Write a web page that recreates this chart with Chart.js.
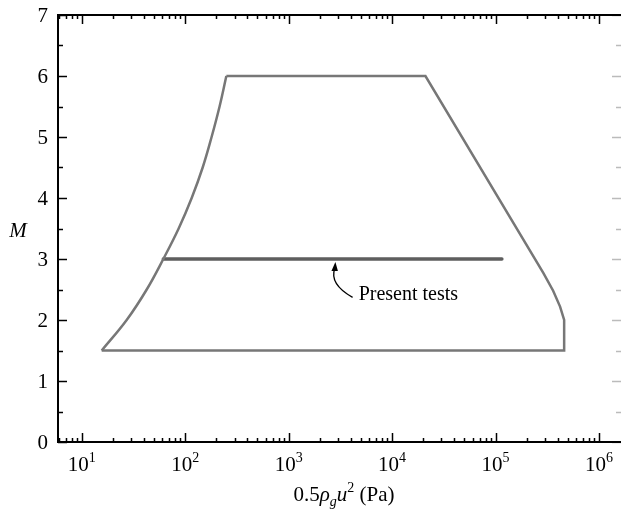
<!DOCTYPE html>
<html>
<head>
<meta charset="utf-8">
<script src="https://cdn.jsdelivr.net/npm/chart.js@4.4.1/dist/chart.umd.min.js"></script>
<style>
    html, body { margin: 0; padding: 0; background: #fff; }
    #wrap { width: 621px; height: 509px; position: relative; }
</style>
</head>
<body>
<div id="wrap"><canvas id="chart"></canvas></div>
<script>
// Enveloppe des conditions : bord gauche (courbe) puis le reste (segments)
const leftP = [15.6, 27.2, 42.5, 61.5, 86.5, 115.6, 147.6, 180, 215, 250];
const leftM = [1.5, 2.0, 2.5, 3.0, 3.5, 4.0, 4.5, 5.0, 5.5, 6.0];
const outerP = [250, 21000, 290000, 360000, 420000, 460000, 460000, 15.6];
const outerM = [6.0, 6.0, 2.77, 2.48, 2.22, 2.0, 1.5, 1.5];

// Essais présents
const testsP = [61.5, 115000];
const testsM = [3, 3];

// Axes
const xMin = 5.9;
const xMax = 1.63e6;
const xDecades = [1, 2, 3, 4, 5, 6];
const yTicks = [0, 1, 2, 3, 4, 5, 6, 7];

// Annotation : [pointe, départ, texte]
const noteP = [2800, 4150, 4750];
const noteM = [2.95, 2.37, 2.41];
const noteText = 'Present tests';

const SERIF = '"Liberation Serif", "Times New Roman", serif';

function toPoints(xs, ys) {
    return xs.map((x, i) => ({ x: x, y: ys[i] }));
}

const framePlugin = {
    id: 'frame',
    afterDraw(chart) {
        const ctx = chart.ctx;
        const area = chart.chartArea;
        const xs = chart.scales.x;
        const ys = chart.scales.y;
        ctx.save();

        // ticks en X (bas et haut)
        const xTick = (v, len) => {
            const px = Math.round(xs.getPixelForValue(v)) + 0.5;
            if (px < area.left + 1 || px > area.right) return;
            ctx.beginPath();
            ctx.moveTo(px, area.bottom); ctx.lineTo(px, area.bottom - len);
            ctx.moveTo(px, area.top); ctx.lineTo(px, area.top + len);
            ctx.stroke();
        };
        ctx.strokeStyle = '#000';
        ctx.lineWidth = 1.5;
        for (let d = 0; d <= 6; d++) {
            for (let m = 1; m <= 9; m++) {
                const v = m * Math.pow(10, d);
                if (v < xMin || v > xMax) continue;
                xTick(v, m === 1 ? 9 : 4);
            }
        }

        // ticks en Y (gauche et droite)
        for (let v = 0; v <= 7; v += 0.5) {
            const py = Math.round(ys.getPixelForValue(v)) + 0.5;
            const len = Number.isInteger(v) ? 9 : 5;
            ctx.strokeStyle = '#000';
            ctx.beginPath();
            ctx.moveTo(area.left, py); ctx.lineTo(area.left + len, py);
            ctx.stroke();
            ctx.strokeStyle = '#bbb';
            ctx.beginPath();
            ctx.moveTo(area.right, py); ctx.lineTo(area.right - len, py);
            ctx.stroke();
        }

        // cadre
        ctx.strokeStyle = '#000';
        ctx.lineWidth = 2;
        ctx.beginPath();
        ctx.moveTo(area.left, area.top); ctx.lineTo(area.right + 2, area.top);
        ctx.moveTo(area.left, area.bottom); ctx.lineTo(area.right + 2, area.bottom);
        ctx.moveTo(area.left, area.top - 1); ctx.lineTo(area.left, area.bottom + 1);
        ctx.stroke();

        // étiquettes Y
        ctx.fillStyle = '#000';
        ctx.font = '21px ' + SERIF;
        ctx.textAlign = 'right';
        ctx.textBaseline = 'middle';
        yTicks.forEach(v => {
            ctx.fillText(String(v), 48, ys.getPixelForValue(v) + 1);
        });

        // étiquettes X : 10^n
        ctx.textBaseline = 'alphabetic';
        xDecades.forEach(n => {
            const px = xs.getPixelForValue(Math.pow(10, n));
            ctx.font = '21px ' + SERIF;
            const wBase = ctx.measureText('10').width;
            ctx.font = '14px ' + SERIF;
            const wExp = ctx.measureText(String(n)).width;
            const x0 = px - (wBase + wExp) / 2;
            ctx.textAlign = 'left';
            ctx.font = '21px ' + SERIF;
            ctx.fillText('10', x0, 471);
            ctx.font = '14px ' + SERIF;
            ctx.fillText(String(n), x0 + wBase, 462);
        });

        // titre X : 0.5 ρg u² (Pa)
        const parts = [
            { t: '0.5', f: '21px ' + SERIF, dy: 0 },
            { t: 'ρ', f: 'italic 21px ' + SERIF, dy: 0 },
            { t: 'g', f: 'italic 14px ' + SERIF, dy: 5 },
            { t: 'u', f: 'italic 21px ' + SERIF, dy: 0 },
            { t: '2', f: '14px ' + SERIF, dy: -9 },
            { t: ' (Pa)', f: '21px ' + SERIF, dy: 0 }
        ];
        let total = 0;
        parts.forEach(p => { ctx.font = p.f; p.w = ctx.measureText(p.t).width; total += p.w; });
        let cx = 344 - total / 2;
        parts.forEach(p => {
            ctx.font = p.f;
            ctx.fillText(p.t, cx, 501 + p.dy);
            cx += p.w;
        });

        // titre Y : M
        ctx.font = 'italic 21px ' + SERIF;
        ctx.textAlign = 'center';
        ctx.textBaseline = 'middle';
        ctx.fillText('M', 18, 231);

        // annotation
        const tipX = xs.getPixelForValue(noteP[0]);
        const tipY = ys.getPixelForValue(noteM[0]);
        const stX = xs.getPixelForValue(noteP[1]);
        const stY = ys.getPixelForValue(noteM[1]);
        ctx.strokeStyle = '#000';
        ctx.lineWidth = 1.3;
        ctx.beginPath();
        ctx.moveTo(stX, stY);
        ctx.quadraticCurveTo(tipX - 6, tipY + 22, tipX, tipY + 6);
        ctx.stroke();
        ctx.fillStyle = '#000';
        ctx.beginPath();
        ctx.moveTo(tipX + 0.5, tipY);
        ctx.lineTo(tipX - 3.5, tipY + 9);
        ctx.lineTo(tipX + 3, tipY + 9);
        ctx.closePath();
        ctx.fill();
        ctx.font = '20px ' + SERIF;
        ctx.textAlign = 'left';
        ctx.textBaseline = 'middle';
        ctx.fillText(noteText, xs.getPixelForValue(noteP[2]), ys.getPixelForValue(noteM[2]));

        ctx.restore();
    }
};

new Chart(document.getElementById('chart'), {
    type: 'scatter',
    data: {
        datasets: [{
            data: toPoints(leftP, leftM),
            showLine: true,
            borderColor: '#777777',
            borderWidth: 2.5,
            pointRadius: 0,
            tension: 0.4
        }, {
            data: toPoints(outerP, outerM),
            showLine: true,
            borderColor: '#777777',
            borderWidth: 2.5,
            pointRadius: 0,
            tension: 0,
            borderJoinStyle: 'miter'
        }, {
            data: toPoints(testsP, testsM),
            showLine: true,
            borderColor: '#5e5e5e',
            borderWidth: 3.5,
            pointRadius: 0,
            borderCapStyle: 'round'
        }]
    },
    options: {
        responsive: true,
        maintainAspectRatio: false,
        animation: false,
        layout: { padding: { left: 58, top: 15, right: 0, bottom: 67 } },
        plugins: {
            legend: { display: false },
            tooltip: { enabled: false }
        },
        scales: {
            x: { type: 'logarithmic', min: xMin, max: xMax, display: false },
            y: { type: 'linear', min: 0, max: 7, display: false }
        }
    },
    plugins: [framePlugin]
});
</script>
</body>
</html>
